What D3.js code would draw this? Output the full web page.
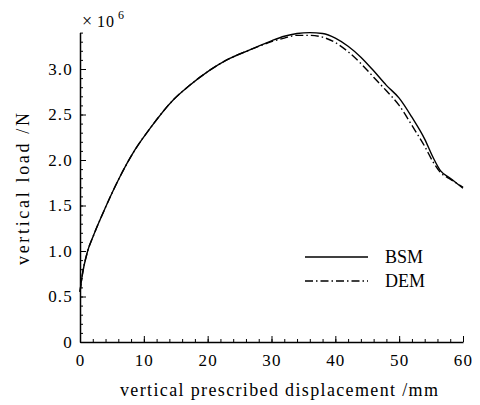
<!DOCTYPE html>
<html lang="en">
<head>
<meta charset="utf-8">
<title>Vertical load vs displacement</title>
<script src="https://cdn.jsdelivr.net/npm/d3@7"></script>
<style>
body { margin: 0; background: #fff; }
svg text { font-family: "Liberation Serif", "DejaVu Serif", serif; fill: #000; }
.axis path, .axis line { stroke: #000; }
.axis path { stroke-width: 1.5; }
.axis text { letter-spacing: 1.2px; }
.curve { fill: none; stroke: #000; stroke-width: 1.4; }
</style>
</head>
<body>
<div id="chart"></div>
<script>
// displacement (mm) and load (x 10^6 N)
var bsmX = [0, 0.3, 1.2, 2, 4, 6, 8.6, 11, 14.6, 17, 20.4, 23, 26.6, 30, 32, 34, 36, 38, 40, 42, 44, 46, 48, 50, 52, 54, 55.3, 56.5, 58, 60];
var bsmY = [0.55, 0.71, 1.0, 1.15, 1.48, 1.78, 2.11, 2.35, 2.66, 2.81, 2.99, 3.10, 3.21, 3.31, 3.36, 3.39, 3.40, 3.39, 3.34, 3.25, 3.13, 2.98, 2.82, 2.68, 2.47, 2.23, 2.03, 1.88, 1.80, 1.69];
var demX = [0, 0.3, 1.2, 2, 4, 6, 8.6, 11, 14.6, 17, 20.4, 23, 26.6, 30, 32, 34, 36, 38, 40, 42, 44, 46, 48, 50, 52, 54, 55.3, 56.5, 58, 60];
var demY = [0.55, 0.71, 1.0, 1.15, 1.48, 1.78, 2.11, 2.35, 2.66, 2.81, 2.99, 3.10, 3.21, 3.30, 3.34, 3.37, 3.37, 3.35, 3.29, 3.19, 3.06, 2.91, 2.76, 2.60, 2.38, 2.15, 1.98, 1.86, 1.79, 1.70];

var xTicks = [0, 10, 20, 30, 40, 50, 60];
var yTicks = [0, 0.5, 1.0, 1.5, 2.0, 2.5, 3.0];
var seriesNames = ["BSM", "DEM"];

var w = 480, h = 405;
var svg = d3.select("#chart").append("svg").attr("width", w).attr("height", h);

var x = d3.scaleLinear().domain([0, 60]).range([80, 463]);
var y = d3.scaleLinear().domain([0, 3.4]).range([342, 32.6]);

var serif = "'Liberation Serif', 'DejaVu Serif', serif";

// minor ticks first
svg.append("g").attr("class", "axis")
  .attr("transform", "translate(0,342)")
  .call(d3.axisBottom(x).tickValues(d3.range(0, 61, 2)).tickSize(-3).tickFormat(""))
  .select(".domain").remove();
svg.append("g").attr("class", "axis")
  .attr("transform", "translate(80,0)")
  .call(d3.axisLeft(y).tickValues(d3.range(0, 35).map(function (d) { return d / 10; })).tickSize(-3).tickFormat(""))
  .select(".domain").remove();

// major ticks
svg.append("g").attr("class", "axis")
  .attr("transform", "translate(0,342)")
  .call(d3.axisBottom(x).tickValues(xTicks).tickSizeInner(-6).tickSizeOuter(0).tickPadding(12).tickFormat(d3.format("d")))
  .attr("font-family", serif).attr("font-size", 17);
svg.append("g").attr("class", "axis")
  .attr("transform", "translate(80,0)")
  .call(d3.axisLeft(y).tickValues(yTicks).tickSizeInner(-6).tickSizeOuter(0).tickPadding(7)
    .tickFormat(function (d) { return d === 0 ? "0" : d3.format(".1f")(d); }))
  .attr("font-family", serif).attr("font-size", 17);

// multiplier
svg.append("text").attr("x", 82).attr("y", 27).style("font-size", "18px").text("\u00d7");
svg.append("text").attr("x", 97).attr("y", 27).style("font-size", "16px").style("letter-spacing", "1px").text("10");
svg.append("text").attr("x", 118).attr("y", 19).style("font-size", "12px").text("6");

// axis titles
svg.append("text").attr("x", 279).attr("y", 396).attr("text-anchor", "middle")
  .attr("textLength", 318).attr("lengthAdjust", "spacing")
  .style("font-size", "18px").text("vertical prescribed displacement /mm");
svg.append("text").attr("transform", "translate(29,189) rotate(-90)").attr("text-anchor", "middle")
  .attr("textLength", 152).attr("lengthAdjust", "spacing")
  .style("font-size", "18px").text("vertical load /N");

// curves
var line = d3.line().x(function (d) { return x(d[0]); }).y(function (d) { return y(d[1]); }).curve(d3.curveMonotoneX);
svg.append("path").attr("class", "curve").attr("d", line(d3.zip(bsmX, bsmY)));
svg.append("path").attr("class", "curve").attr("stroke-dasharray", "8,3,1.5,3").attr("d", line(d3.zip(demX, demY)));

// legend
var dashes = [null, "8,3,1.5,3"];
seriesNames.forEach(function (name, i) {
  var ly = 257 + i * 24;
  svg.append("line").attr("x1", 305).attr("x2", 368).attr("y1", ly).attr("y2", ly)
    .attr("stroke", "#000").attr("stroke-width", 1.4).attr("stroke-dasharray", dashes[i]);
  svg.append("text").attr("x", 385).attr("y", ly + 6).style("font-size", "18px").text(name);
});
</script>
</body>
</html>
